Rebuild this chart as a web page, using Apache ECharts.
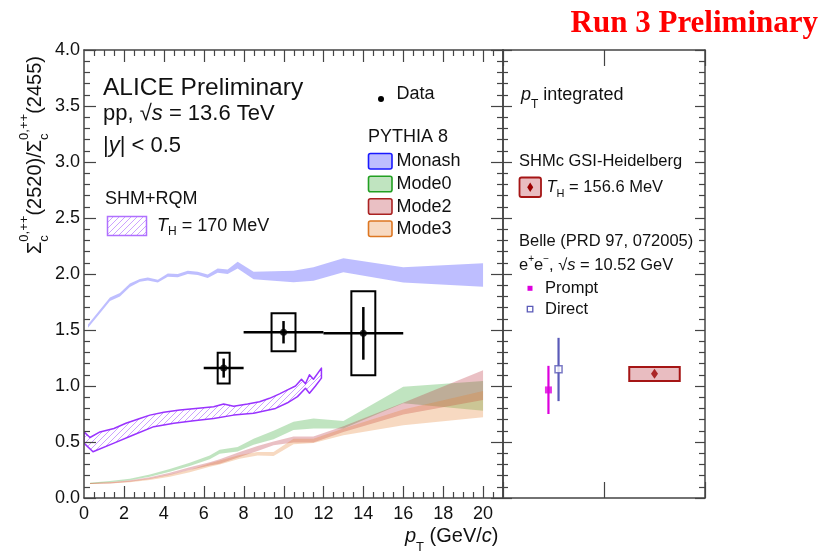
<!DOCTYPE html>
<html>
<head>
<meta charset="utf-8">
<title>Sigma_c ratio</title>
<script src="https://cdn.jsdelivr.net/npm/echarts@6/dist/echarts.min.js"></script>
<style>
html, body { margin: 0; padding: 0; background: #fff; }
#wrap { position: relative; width: 827px; height: 554px; }
#marks, #right, #frame { position: absolute; left: 0; top: 0; width: 827px; height: 554px; }
</style>
</head>
<body>
<div id="wrap">
  <div id="marks"></div>
  <div id="right"></div>
  <div id="frame"></div>
</div>
<script>
// ---- ALICE data ----
var dataPt = [7, 10, 14];
var dataRatio = [1.16, 1.48, 1.47];
var dataPtLo = [6, 8, 12];
var dataPtHi = [8, 12, 16];
var dataStat = [0.085, 0.10, 0.235];
var dataSyst = [0.137, 0.17, 0.375];

// ---- PYTHIA 8 bands ----
var monashX  = [0.2, 0.8, 1.3, 1.8, 2.3, 2.8, 3.2, 3.7, 4.2, 4.7, 5.2, 5.7, 6.2, 6.7, 7.2, 7.7, 8.5, 10.5, 11.5, 13, 16, 20];
var monashLo = [1.52, 1.65, 1.76, 1.80, 1.885, 1.93, 1.943, 1.923, 1.975, 1.97, 2.0, 1.99, 1.965, 2.012, 2.0, 2.05, 1.953, 1.926, 1.94, 2.015, 1.925, 1.887];
var monashHi = [1.55, 1.68, 1.79, 1.83, 1.915, 1.955, 1.968, 1.948, 2.005, 2.0, 2.03, 2.02, 1.995, 2.048, 2.04, 2.11, 2.02, 2.03, 2.06, 2.14, 2.06, 2.095];

var mode0X  = [0.3, 1.3, 2.3, 3.3, 4.3, 5.3, 6.3, 6.8, 7.7, 8.5, 9.5, 10.5, 11.5, 13, 16, 20];
var mode0Lo = [0.125, 0.14, 0.158, 0.19, 0.235, 0.285, 0.345, 0.395, 0.415, 0.475, 0.525, 0.607, 0.62, 0.62, 0.845, 0.78];
var mode0Hi = [0.137, 0.152, 0.172, 0.21, 0.26, 0.315, 0.38, 0.43, 0.455, 0.53, 0.60, 0.68, 0.71, 0.687, 0.994, 1.045];

var mode2X  = [0.3, 1.3, 2.3, 3.3, 4.3, 5.3, 6.3, 6.8, 7.8, 8.7, 9.5, 10.5, 11.5, 13, 16, 20];
var mode2Lo = [0.125, 0.13, 0.145, 0.17, 0.205, 0.25, 0.29, 0.305, 0.365, 0.42, 0.47, 0.495, 0.495, 0.59, 0.745, 0.875];
var mode2Hi = [0.135, 0.14, 0.158, 0.185, 0.225, 0.275, 0.32, 0.345, 0.41, 0.465, 0.505, 0.55, 0.55, 0.64, 0.85, 1.14];

var mode3X  = [0.3, 1.3, 2.3, 3.3, 4.3, 5.3, 6.3, 6.8, 7.8, 8.7, 9.5, 10.5, 11.5, 13, 16, 20];
var mode3Lo = [0.125, 0.13, 0.14, 0.16, 0.19, 0.23, 0.28, 0.30, 0.35, 0.38, 0.375, 0.48, 0.49, 0.56, 0.65, 0.72];
var mode3Hi = [0.135, 0.14, 0.152, 0.175, 0.21, 0.25, 0.31, 0.335, 0.385, 0.41, 0.41, 0.53, 0.53, 0.62, 0.79, 0.955];

// ---- SHM+RQM (T_H = 170 MeV) ----
var shmUpX = [0, 0.3, 0.8, 1.5, 2.1, 2.8, 3.3, 4.0, 4.8, 5.6, 6.5, 7.0, 7.5, 8.2, 8.8, 9.3, 9.8, 10.2, 10.6, 10.9, 11.1, 11.3, 11.5, 11.9];
var shmUpY = [0.59, 0.54, 0.59, 0.62, 0.667, 0.71, 0.74, 0.765, 0.786, 0.80, 0.815, 0.84, 0.82, 0.84, 0.86, 0.89, 0.93, 0.965, 1.0, 1.06, 1.02, 1.10, 1.06, 1.16];
var shmLoX = [0, 0.45, 1.5, 2.5, 3.5, 4.5, 5.5, 6.5, 7.5, 8.5, 9.6, 10.2, 10.7, 11.1, 11.3, 11.6, 11.9];
var shmLoY = [0.49, 0.413, 0.49, 0.565, 0.637, 0.667, 0.69, 0.71, 0.74, 0.756, 0.80, 0.85, 0.905, 0.98, 0.935, 1.0, 1.07];

// ---- pT integrated panel ----
var belleName = ['Prompt', 'Direct'];
var belleX  = [0.45, 0.55];
var belleY  = [0.965, 1.15];
var belleLo = [0.75, 0.865];
var belleHi = [1.18, 1.43];
var shmcX = [1.25, 1.75];
var shmcY = 1.11;
var shmcLo = 1.045;
var shmcHi = 1.17;

var FONT = '"Liberation Sans", Arial, Helvetica, sans-serif';
var AX = '#444';
var GRID_L = { left: 84, top: 50, width: 419, height: 448 };

// three layers: marks of the left panel, the right panel, the left frame + texts on top
var marksChart = echarts.init(document.getElementById('marks'));
var rightChart = echarts.init(document.getElementById('right'));
var frameChart = echarts.init(document.getElementById('frame'));

// hatch pattern for SHM+RQM
function hatch() {
    var c = document.createElement('canvas');
    c.width = 6; c.height = 6;
    var g = c.getContext('2d');
    g.strokeStyle = 'rgba(170,100,255,0.6)';
    g.lineWidth = 1;
    g.beginPath();
    g.moveTo(0, 6); g.lineTo(6, 0);
    g.moveTo(-1, 1); g.lineTo(1, -1);
    g.moveTo(5, 7); g.lineTo(7, 5);
    g.stroke();
    return c;
}

// text with sub/superscripts
var mctx = document.createElement('canvas').getContext('2d');
function measure(t, s, it) {
    mctx.font = (it ? 'italic ' : '') + s + 'px ' + FONT;
    return mctx.measureText(t).width;
}
function txt(x, y, t, s, it, col) {
    return {
        type: 'text', x: x, y: y, silent: true,
        style: { text: t, fontSize: s, fontFamily: FONT, fontStyle: it ? 'italic' : 'normal',
                 fill: col || '#111', verticalAlign: 'middle', align: 'left' }
    };
}
function run(x, y, pieces, rotation) {
    var kids = [], cx = 0;
    pieces.forEach(function (p) {
        if (p.sup !== undefined) {
            kids.push(txt(cx, p.supDy, p.sup, p.s));
            kids.push(txt(cx, p.subDy, p.sub, p.s));
            cx += Math.max(measure(p.sup, p.s), measure(p.sub, p.s));
        } else {
            kids.push(txt(cx, p.dy || 0, p.t, p.s, p.i, p.c));
            cx += measure(p.t, p.s, p.i);
        }
    });
    return { type: 'group', x: x, y: y, rotation: rotation || 0, children: kids };
}

function band(name, upX, upY, loX, loY, style) {
    return {
        type: 'custom', name: name, silent: true, clip: true,
        data: [[upX[0], upY[0]]],
        renderItem: function (params, api) {
            var pts = [];
            for (var i = 0; i < upX.length; i++) pts.push(api.coord([upX[i], upY[i]]));
            for (var j = loX.length - 1; j >= 0; j--) pts.push(api.coord([loX[j], loY[j]]));
            return { type: 'polygon', shape: { points: pts }, style: style };
        }
    };
}

function yAx(pos, major, minor, labels) {
    return {
        type: 'value', position: pos, min: 0, max: 4, interval: 0.5,
        axisLine: { show: true, onZero: false, lineStyle: { color: AX, width: 1.5 } },
        axisTick: { show: true, inside: true, length: major, lineStyle: { color: AX, width: 1.2 } },
        minorTick: { show: true, splitNumber: 5, length: minor, lineStyle: { color: AX, width: 1.2 } },
        splitLine: { show: false },
        axisLabel: { show: labels, margin: 4, color: '#111', fontSize: 18, fontFamily: FONT,
                     formatter: function (v) { return v.toFixed(1); } }
    };
}

function ptAx(pos, labels) {
    return {
        type: 'value', position: pos, min: 0, max: 21, interval: 2,
        axisLine: { show: true, onZero: false, lineStyle: { color: AX, width: 1.5 } },
        axisTick: { show: false },
        splitLine: { show: false },
        axisLabel: { show: labels, showMaxLabel: false, margin: 7, color: '#111', fontSize: 18, fontFamily: FONT }
    };
}

function intAx(pos) {
    return {
        type: 'value', position: pos, min: 0, max: 2, interval: 1,
        axisLine: { show: true, onZero: false, lineStyle: { color: AX, width: 1.5 } },
        axisTick: { show: true, inside: true, length: 16, lineStyle: { color: AX, width: 1.2 } },
        splitLine: { show: false },
        axisLabel: { show: false }
    };
}

// ---------- left panel marks (hidden axes, same scales as the frame) ----------
marksChart.setOption({
    animation: false,
    grid: GRID_L,
    xAxis: { type: 'value', min: 0, max: 21, show: false },
    yAxis: { type: 'value', min: 0, max: 4, show: false },
    series: [
        band('Monash', monashX, monashHi, monashX, monashLo, { fill: 'rgba(110,110,255,0.45)' }),
        band('Mode0', mode0X, mode0Hi, mode0X, mode0Lo, { fill: 'rgba(60,170,60,0.32)' }),
        band('Mode2', mode2X, mode2Hi, mode2X, mode2Lo, { fill: 'rgba(185,45,60,0.3)' }),
        band('Mode3', mode3X, mode3Hi, mode3X, mode3Lo, { fill: 'rgba(230,130,50,0.3)' }),
        band('SHM+RQM', shmUpX, shmUpY, shmLoX, shmLoY,
             { fill: { image: hatch(), repeat: 'repeat' }, stroke: '#9933ff', lineWidth: 1.5, lineJoin: 'round' }),
        {
            type: 'custom', name: 'Data', silent: true,
            data: dataPt.map(function (x, i) {
                return [x, dataRatio[i], dataPtLo[i], dataPtHi[i], dataStat[i], dataSyst[i]];
            }),
            renderItem: function (params, api) {
                var x = api.value(0), y = api.value(1);
                var st = api.value(4), sy = api.value(5);
                var hw = params.dataIndex === 0 ? 0.3 : 0.6;
                var l = api.coord([api.value(2), y]), r = api.coord([api.value(3), y]);
                var t = api.coord([x, y + st]), b = api.coord([x, y - st]);
                var p1 = api.coord([x - hw, y + sy]), p2 = api.coord([x + hw, y - sy]);
                var ln = { stroke: '#000', lineWidth: 2.5 };
                return { type: 'group', children: [
                    { type: 'rect', shape: { x: p1[0], y: p1[1], width: p2[0] - p1[0], height: p2[1] - p1[1] },
                      style: { fill: 'none', stroke: '#000', lineWidth: 2 } },
                    { type: 'line', shape: { x1: l[0], y1: l[1], x2: r[0], y2: r[1] }, style: ln },
                    { type: 'line', shape: { x1: t[0], y1: t[1], x2: b[0], y2: b[1] }, style: ln }
                ] };
            }
        },
        {
            type: 'scatter', name: 'Data points', silent: true,
            symbol: 'circle', symbolSize: 7, itemStyle: { color: '#000' },
            data: dataPt.map(function (x, i) { return [x, dataRatio[i]]; })
        }
    ]
});

// ---------- pT-integrated panel ----------
rightChart.setOption({
    animation: false,
    grid: { left: 503, top: 50, width: 202, height: 448 },
    xAxis: [intAx('bottom'), intAx('top')],
    yAxis: [yAx('left', 9, 5, false), yAx('right', 10, 6, false)],
    series: [
        {
            type: 'custom', name: 'SHMc', silent: true,
            data: [[shmcX[0], shmcLo, shmcX[1], shmcHi]],
            renderItem: function (params, api) {
                var a = api.coord([api.value(0), api.value(3)]), b = api.coord([api.value(2), api.value(1)]);
                return { type: 'rect', shape: { x: a[0], y: a[1], width: b[0] - a[0], height: b[1] - a[1] },
                         style: { fill: 'rgba(200,90,100,0.4)', stroke: '#a51515', lineWidth: 2 } };
            }
        },
        {
            type: 'scatter', name: 'SHMc point', silent: true,
            symbol: 'diamond', symbolSize: [7, 10], itemStyle: { color: '#9b0000' },
            data: [[(shmcX[0] + shmcX[1]) / 2, shmcY]]
        },
        {
            type: 'custom', name: 'Belle errors', silent: true,
            data: belleX.map(function (x, i) { return [x, belleY[i], belleLo[i], belleHi[i]]; }),
            renderItem: function (params, api) {
                var x = api.value(0);
                var t = api.coord([x, api.value(3)]), b = api.coord([x, api.value(2)]);
                return { type: 'line', shape: { x1: t[0], y1: t[1], x2: b[0], y2: b[1] },
                         style: { stroke: params.dataIndex === 0 ? '#dd00dd' : '#5a5ab8', lineWidth: 2.2 } };
            }
        },
        {
            type: 'scatter', name: belleName[0], silent: true,
            symbol: 'rect', symbolSize: 7, itemStyle: { color: '#dd00dd' },
            data: [[belleX[0], belleY[0]]]
        },
        {
            type: 'scatter', name: belleName[1], silent: true,
            symbol: 'rect', symbolSize: 7, itemStyle: { color: '#fff', borderColor: '#5a5ab8', borderWidth: 1.5 },
            data: [[belleX[1], belleY[1]]]
        }
    ]
});

// ---------- left frame, axes and all texts on top ----------
frameChart.setOption({
    animation: false,
    grid: GRID_L,
    xAxis: [ptAx('bottom', true), ptAx('top', false)],
    yAxis: [yAx('left', 12, 6, true), yAx('right', 12, 6, false)]
});

// pT ticks every 0.5 (long every 2), placed with the frame's own x scale
var ptTickEls = [];
for (var k = 1; k <= 41; k++) {
    var v = k * 0.5;
    var len = (k % 4 === 0) ? 12 : 6;
    var pb = frameChart.convertToPixel({ xAxisIndex: 0, yAxisIndex: 0 }, [v, 0]);
    var pt = frameChart.convertToPixel({ xAxisIndex: 0, yAxisIndex: 0 }, [v, 4]);
    var xx = Math.round(pb[0]) + 0.5;
    ptTickEls.push({ type: 'line', silent: true, shape: { x1: xx, y1: pb[1], x2: xx, y2: pb[1] - len },
                     style: { stroke: AX, lineWidth: 1.2 } });
    ptTickEls.push({ type: 'line', silent: true, shape: { x1: xx, y1: pt[1], x2: xx, y2: pt[1] + len },
                     style: { stroke: AX, lineWidth: 1.2 } });
}

var texts = [
    // title
    { type: 'text', x: 818, y: 24, silent: true,
      style: { text: 'Run 3 Preliminary', fontSize: 31, fontWeight: 'bold',
               fontFamily: '"Liberation Serif", "Times New Roman", serif', fill: '#ff0000',
               align: 'right', verticalAlign: 'middle' } },
    // y axis title (rotated)
    run(35, 254, [
        { t: 'Σ', s: 20 },
        { sup: '0,++', sub: 'c', s: 13, supDy: -10.5, subDy: 9 },
        { t: '(2520)/', s: 20 },
        { t: 'Σ', s: 20 },
        { sup: '0,++', sub: 'c', s: 13, supDy: -10.5, subDy: 9 },
        { t: '(2455)', s: 20 }
    ], Math.PI / 2),
    // x axis title
    run(405, 536, [
        { t: 'p', s: 20, i: true },
        { t: 'T', s: 13, dy: 11 },
        { t: ' (GeV/', s: 20 },
        { t: 'c', s: 20, i: true },
        { t: ')', s: 20 }
    ]),
    // system labels
    run(103, 88, [{ t: 'ALICE Preliminary', s: 24.5 }]),
    run(103, 114, [{ t: 'pp, ', s: 22 }, { t: '√', s: 22 }, { t: 's', s: 22, i: true }, { t: ' = 13.6 TeV', s: 22 }]),
    run(103, 146, [{ t: '|', s: 22 }, { t: 'y', s: 22, i: true }, { t: '| < 0.5', s: 22 }]),
    // SHM+RQM legend
    run(105, 199, [{ t: 'SHM+RQM', s: 18 }]),
    { type: 'rect', silent: true, shape: { x: 107.5, y: 216.5, width: 39, height: 19 },
      style: { fill: { image: hatch(), repeat: 'repeat' }, stroke: '#b070ff', lineWidth: 1.5 } },
    run(157, 226, [{ t: 'T', s: 18, i: true }, { t: 'H', s: 12, dy: 6 }, { t: ' = 170 MeV', s: 18 }]),
    // Data + PYTHIA legend
    { type: 'circle', silent: true, shape: { cx: 381, cy: 99, r: 3 }, style: { fill: '#000' } },
    run(396.5, 94.5, [{ t: 'Data', s: 18 }]),
    run(368, 137, [{ t: 'PYTHIA 8', s: 18 }]),
    { type: 'rect', silent: true, shape: { x: 368.5, y: 153.5, width: 23.5, height: 15.5, r: 2 },
      style: { fill: 'rgba(110,110,255,0.45)', stroke: '#1a1aff', lineWidth: 1.6 } },
    run(396.5, 161.5, [{ t: 'Monash', s: 18 }]),
    { type: 'rect', silent: true, shape: { x: 368.5, y: 176.3, width: 23.5, height: 15.5, r: 2 },
      style: { fill: 'rgba(60,170,60,0.32)', stroke: '#22a022', lineWidth: 1.6 } },
    run(396.5, 184.2, [{ t: 'Mode0', s: 18 }]),
    { type: 'rect', silent: true, shape: { x: 368.5, y: 198.7, width: 23.5, height: 15.5, r: 2 },
      style: { fill: 'rgba(185,45,60,0.3)', stroke: '#aa2222', lineWidth: 1.6 } },
    run(396.5, 206.6, [{ t: 'Mode2', s: 18 }]),
    { type: 'rect', silent: true, shape: { x: 368.5, y: 221, width: 23.5, height: 15.5, r: 2 },
      style: { fill: 'rgba(230,130,50,0.3)', stroke: '#dd7722', lineWidth: 1.6 } },
    run(396.5, 228.8, [{ t: 'Mode3', s: 18 }]),
    // pT integrated panel labels
    run(521, 95, [{ t: 'p', s: 18, i: true }, { t: 'T', s: 12, dy: 10 }, { t: ' integrated', s: 18 }]),
    run(519, 161, [{ t: 'SHMc GSI-Heidelberg', s: 16.5 }]),
    { type: 'rect', silent: true, shape: { x: 519.5, y: 177.5, width: 21.5, height: 19.5, r: 2 },
      style: { fill: 'rgba(200,90,100,0.4)', stroke: '#a51515', lineWidth: 1.8 } },
    { type: 'polygon', silent: true, shape: { points: [[530.2, 182.5], [533.2, 187.3], [530.2, 192], [527.2, 187.3]] },
      style: { fill: '#9b0000' } },
    run(546.5, 187.5, [{ t: 'T', s: 16.5, i: true }, { t: 'H', s: 11, dy: 6 }, { t: ' = 156.6 MeV', s: 16.5 }]),
    run(519, 241, [{ t: 'Belle (PRD 97, 072005)', s: 16.5 }]),
    run(519, 265.5, [
        { t: 'e', s: 16.5 }, { t: '+', s: 10, dy: -6 }, { t: 'e', s: 16.5 }, { t: '−', s: 10, dy: -6 },
        { t: ', ', s: 16.5 }, { t: '√', s: 16.5 }, { t: 's', s: 16.5, i: true }, { t: ' = 10.52 GeV', s: 16.5 }
    ]),
    { type: 'rect', silent: true, shape: { x: 527.5, y: 285.8, width: 5, height: 5 }, style: { fill: '#dd00dd' } },
    run(545, 288, [{ t: 'Prompt', s: 16.5 }]),
    { type: 'rect', silent: true, shape: { x: 527.3, y: 306.3, width: 5.5, height: 5.5 },
      style: { fill: '#fff', stroke: '#5a5ab8', lineWidth: 1.3 } },
    run(545, 309, [{ t: 'Direct', s: 16.5 }])
];

frameChart.setOption({ graphic: ptTickEls.concat(texts) });
</script>
</body>
</html>
